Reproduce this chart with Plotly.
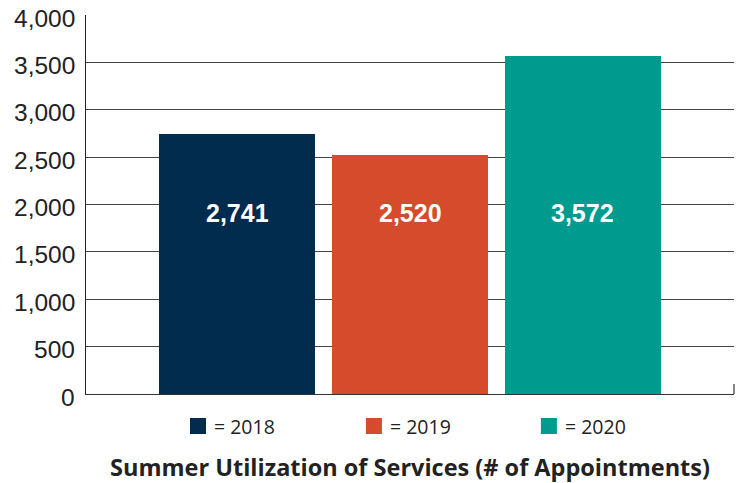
import plotly.graph_objects as go

years = ["2018", "2019", "2020"]
appointments = [2741, 2520, 3572]
labels = ["2,741", "2,520", "3,572"]
colors = ["#012C4D", "#D64B2C", "#009B8F"]
y_ticks = [0, 500, 1000, 1500, 2000, 2500, 3000, 3500, 4000]
y_ticklabels = ["0", "500", "1,000", "1,500", "2,000", "2,500", "3,000", "3,500", "4,000"]
title_text = "Summer Utilization of Services (# of Appointments)"

xpos = list(range(len(years)))

fig = go.Figure()
fig.add_trace(go.Bar(
    x=xpos, y=appointments, width=0.902,
    marker=dict(color=colors, line=dict(width=0)),
    showlegend=False, hoverinfo="skip",
))

# value labels inside the bars at a common height
for xi, lab in zip(xpos, labels):
    fig.add_annotation(x=xi, y=0.477, xref="x", yref="paper", text="<b>%s</b>" % lab,
                       showarrow=False, font=dict(family="Liberation Sans, Arial", size=25, color="white"))

# y tick labels, sitting a little below their gridlines as in the reference
for tv, tl in zip(y_ticks, y_ticklabels):
    fig.add_annotation(x=0, y=tv, xref="paper", yref="y", text=tl, showarrow=False,
                       xanchor="right", yanchor="middle", xshift=-9, yshift=-3,
                       font=dict(family="Liberation Sans, Arial", size=24.5, color="#222222"))

# manual legend below the plot
legend_x = [0.1605, 0.432, 0.702]
for lx, c, yr in zip(legend_x, colors, years):
    fig.add_shape(type="rect", xref="paper", yref="paper",
                  x0=lx, x1=lx + 16 / 648, y0=-(418 - 394) / 379, y1=-(434 - 394) / 379,
                  fillcolor=c, line=dict(width=0))
    fig.add_annotation(x=lx + 22 / 648, y=-(426 - 394) / 379, xref="paper", yref="paper",
                       text="= " + yr, showarrow=False, xanchor="left", yanchor="middle",
                       font=dict(family="Open Sans", size=19.5, color="#222222"))

fig.add_annotation(x=(410 - 86) / 648, y=-(467 - 394) / 379, xref="paper", yref="paper",
                   text="<b>%s</b>" % title_text, showarrow=False, xanchor="center", yanchor="middle",
                   font=dict(family="Open Sans", size=23.5, color="#222222"))

# small tick at the right end of the baseline
fig.add_shape(type="line", xref="paper", yref="paper", x0=1, x1=1, y0=0, y1=10 / 379,
              line=dict(color="#333333", width=1.2))

fig.update_layout(
    width=739, height=483,
    margin=dict(l=86, r=5, t=15, b=89, autoexpand=False),
    paper_bgcolor="white", plot_bgcolor="white",
    bargap=0,
    xaxis=dict(range=[-0.873, 2.873], showticklabels=False, showgrid=False, zeroline=False,
               showline=True, linecolor="#333333", linewidth=1.2, ticks=""),
    yaxis=dict(range=[0, 4000], tickvals=y_ticks, showticklabels=False,
               showgrid=True, gridcolor="#444444", gridwidth=1,
               zeroline=False, showline=True, linecolor="#222222", linewidth=1.2,
               ticks=""),
)

# remove the browser's default 8px body margin so the figure fills the window
fig.write_html("out.html", config={"displayModeBar": False, "staticPlot": True},
               post_script="document.body.style.margin='0';document.body.style.overflow='hidden';")
